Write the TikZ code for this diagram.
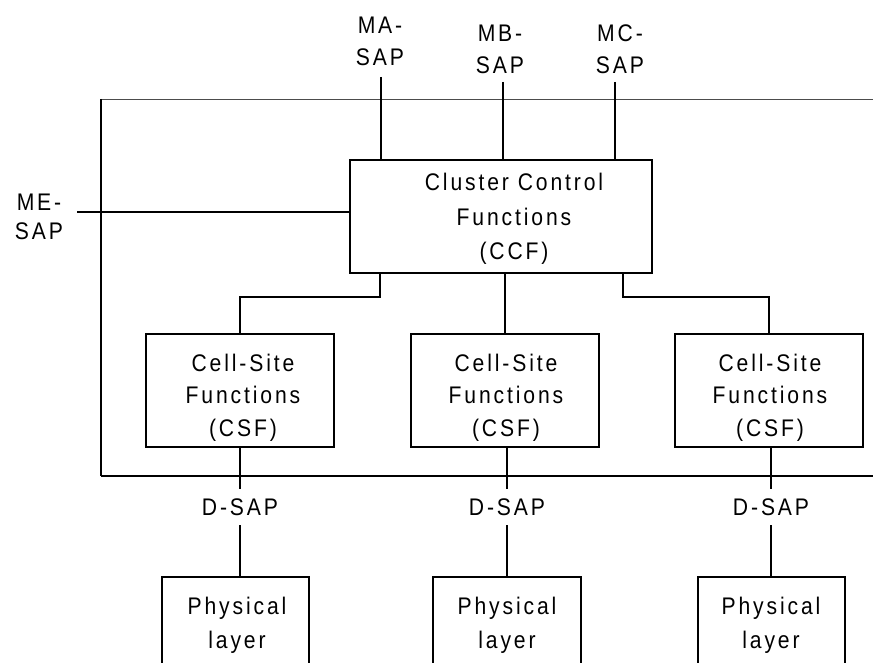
\documentclass[tikz,border=0pt]{standalone}
\usepackage{fontspec}
\setmainfont{Liberation Sans}[LetterSpace=12, FakeStretch=0.88]
\begin{document}
\begin{tikzpicture}[x=1pt,y=-1pt,
  every node/.style={inner sep=0pt, align=center},
  boxshape/.style={draw, line width=1.6pt, inner sep=0pt},
  txt/.style={font=\fontsize{24}{#1}\selectfont},
  txt/.default=34.5,
  conn/.style={line width=1.3pt},
  branch/.style={line width=2pt},
  frametop/.style={line width=0.9pt, black!70},
  frameleft/.style={line width=1.3pt},
  framebottom/.style={line width=1.8pt}]
\useasboundingbox (0,0) rectangle (873,663);

% outer frame
\coordinate (ftl) at (101,99);
\coordinate (fbl) at (101,476);
\coordinate (ftr) at (880,99);
\coordinate (fbr) at (880,476);
\draw[frametop] (ftl) -- (ftr);
\draw[frameleft] (ftl) -- (fbl);
\draw[framebottom] (fbl) -- (fbr);

% boxes
\node[boxshape, minimum width=302pt, minimum height=113pt] (ccf) at (501,216.5) {};
\node[txt] (ccft) at (514,219) {Cluster Control\\Functions\\(CCF)};

\node[boxshape, minimum width=188pt, minimum height=113pt] (csf1) at (240,390.5) {};
\node[boxshape, minimum width=188pt, minimum height=113pt] (csf2) at (505,390.5) {};
\node[boxshape, minimum width=188pt, minimum height=113pt] (csf3) at (769,390.5) {};
\node[txt=32.5] (csf1t) at (243,397.7) {Cell-Site\\Functions\\(CSF)};
\node[txt=32.5] (csf2t) at (506,397.7) {Cell-Site\\Functions\\(CSF)};
\node[txt=32.5] (csf3t) at (770,397.7) {Cell-Site\\Functions\\(CSF)};

\node[boxshape, minimum width=147pt, minimum height=130pt, anchor=north] (phy1) at (235.5,576) {};
\node[boxshape, minimum width=148pt, minimum height=130pt, anchor=north] (phy2) at (507,576) {};
\node[boxshape, minimum width=147pt, minimum height=130pt, anchor=north] (phy3) at (771.5,576) {};
\node[txt=34] (phy1t) at (237,625.3) {Physical\\layer};
\node[txt=34] (phy2t) at (507,625.3) {Physical\\layer};
\node[txt=34] (phy3t) at (771,625.3) {Physical\\layer};

% SAP labels
\node[txt=32] (ma) at (380,41) {MA-\\SAP};
\node[txt=32] (mb) at (500,49) {MB-\\SAP};
\node[txt=32] (mc) at (620,49) {MC-\\SAP};
\node[txt=29] (me) at (39,216.5) {ME-\\SAP};

\coordinate (maend) at (381,77);
\coordinate (mbend) at (503,82);
\coordinate (mcend) at (615,82);
\coordinate (meend) at (77,212);
\draw[conn] (maend) -- (maend |- ccf.north);
\draw[conn] (mbend) -- (mbend |- ccf.north);
\draw[conn] (mcend) -- (mcend |- ccf.north);
\draw[branch] (meend) -- (meend -| ccf.west);

% CCF to CSF
\draw[branch] ([xshift=31pt]ccf.south west) -- ++(0,23) -| (csf1.north);
\draw[conn] (csf2.north |- ccf.south) -- (csf2.north);
\draw[branch] ([xshift=-30pt]ccf.south east) -- ++(0,23) -| (csf3.north);

% D-SAP
\node[txt, inner ysep=9.4pt] (d1) at (240,507) {D-SAP};
\node[txt, inner ysep=9.4pt] (d2) at (507,507) {D-SAP};
\node[txt, inner ysep=9.4pt] (d3) at (771,507) {D-SAP};
\draw[conn] (csf1.south) -- (csf1.south |- d1.north);
\draw[conn] (csf1.south |- d1.south) -- (csf1.south |- phy1.north);
\draw[conn] (d2.north |- csf2.south) -- (d2.north);
\draw[conn] (d2.south) -- (d2.south |- phy2.north);
\draw[conn] (d3.north |- csf3.south) -- (d3.north);
\draw[conn] (d3.south) -- (d3.south |- phy3.north);
\end{tikzpicture}
\end{document}
